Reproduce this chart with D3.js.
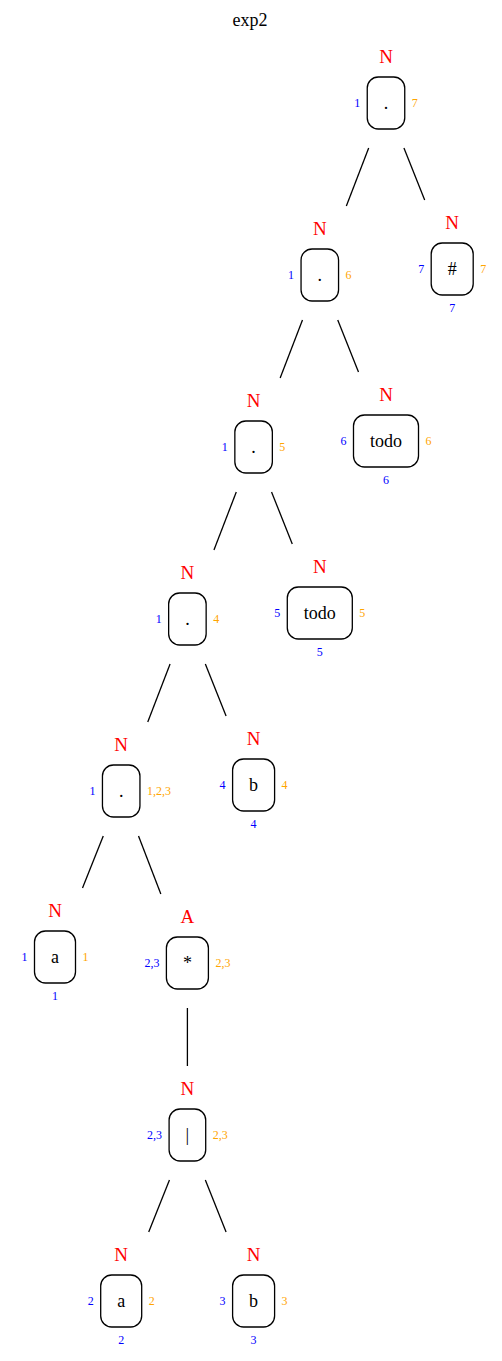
<!DOCTYPE html>
<html>
<head>
<meta charset="utf-8">
<script src="https://cdn.jsdelivr.net/npm/d3@7"></script>
<style>
  body { margin: 0; background: #fff; }
  svg text { font-family: "Liberation Serif", "DejaVu Serif", serif; }
</style>
</head>
<body>
<svg id="chart" width="502" height="1361"></svg>
<script>
// syntax tree of exp2 (node, parent, symbol, nullable, firstpos, lastpos, leaf number)
var ids       = ["n0", "n1", "n2", "n3", "n4", "n5", "n6", "n7", "n8", "n9", "n10", "n11", "n12", "n13"];
var parents   = ["",   "n0", "n0", "n1", "n1", "n3", "n3", "n5", "n5", "n7", "n7",  "n10", "n11", "n11"];
var symbols   = [".",  ".",  "#",  ".",  "todo", ".", "todo", ".", "b", "a", "*",   "|",   "a",   "b"];
var nullable  = ["N",  "N",  "N",  "N",  "N",  "N",  "N",  "N",  "N",  "N",  "A",   "N",   "N",   "N"];
var firstpos  = ["1",  "1",  "7",  "1",  "6",  "1",  "5",  "1",  "4",  "1",  "2,3", "2,3", "2",   "3"];
var lastpos   = ["7",  "6",  "7",  "5",  "6",  "4",  "5",  "1,2,3", "4", "1", "2,3", "2,3", "2",   "3"];
var leafNums  = ["",   "",   "7",  "",   "6",  "",   "5",  "",   "4",  "1",  "",    "",    "2",   "3"];
var title = "exp2";

var svg = d3.select("#chart");

var table = ids.map(function (id, i) {
	return { id: id, parent: parents[i] || null, sym: symbols[i], nul: nullable[i],
		first: firstpos[i], last: lastpos[i], leaf: leafNums[i] };
});

var root = d3.stratify().id(function (d) { return d.id; }).parentId(function (d) { return d.parent; })(table);
d3.tree().nodeSize([1, 1])(root);

var x = d3.scaleLinear().domain([0, 1]).range([386, 518.4]);
var y = d3.scaleLinear().domain([0, 1]).range([103, 275]);

var boxH = 52;

root.each(function (n) {
	n.cx = x(n.x);
	n.cy = y(n.y) - (n.children ? 0 : 6);
});

svg.append("text")
	.attr("x", 250).attr("y", 26)
	.attr("text-anchor", "middle")
	.style("font-size", "18px")
	.text(title);

// edges, cut at the outer node shape
svg.append("g").selectAll("line")
	.data(root.links())
	.enter().append("line")
	.each(function (l) {
		var p = l.source, c = l.target;
		var y1 = p.cy + 45, y2 = c.cy - 69;
		var k = (c.cx - p.cx) / (c.cy - p.cy);
		d3.select(this)
			.attr("x1", p.cx + k * (y1 - p.cy)).attr("y1", y1)
			.attr("x2", p.cx + k * (y2 - p.cy)).attr("y2", y2);
	})
	.attr("stroke", "#000")
	.attr("stroke-width", 1.3);

var node = svg.append("g").selectAll("g")
	.data(root.descendants())
	.enter().append("g")
	.attr("transform", function (n) { return "translate(" + n.cx + "," + n.cy + ")"; });

var label = node.append("text")
	.attr("text-anchor", "middle")
	.attr("dy", "0.35em")
	.style("font-size", "18px")
	.text(function (n) { return n.data.sym; });

label.each(function (n) {
	var tw = this.getComputedTextLength();
	n.w = Math.max(35, tw + 33);
});

node.insert("rect", "text")
	.attr("x", function (n) { return -n.w / 2; })
	.attr("y", -boxH / 2)
	.attr("width", function (n) { return n.w; })
	.attr("height", boxH)
	.attr("rx", 11).attr("ry", 11)
	.attr("fill", "#fff")
	.attr("stroke", "#000")
	.attr("stroke-width", 1.3);

node.append("text")
	.attr("text-anchor", "middle")
	.attr("y", -40)
	.attr("fill", "red")
	.style("font-size", "19px")
	.text(function (n) { return n.data.nul; });

node.append("text")
	.attr("text-anchor", "end")
	.attr("x", function (n) { return -n.w / 2 - 7; })
	.attr("dy", "0.35em")
	.attr("fill", "blue")
	.style("font-size", "12px")
	.text(function (n) { return n.data.first; });

node.append("text")
	.attr("text-anchor", "start")
	.attr("x", function (n) { return n.w / 2 + 7; })
	.attr("dy", "0.35em")
	.attr("fill", "orange")
	.style("font-size", "12px")
	.text(function (n) { return n.data.last; });

node.append("text")
	.attr("text-anchor", "middle")
	.attr("y", 39)
	.attr("dy", "0.35em")
	.attr("fill", "blue")
	.style("font-size", "12px")
	.text(function (n) { return n.data.leaf; });
</script>
</body>
</html>
